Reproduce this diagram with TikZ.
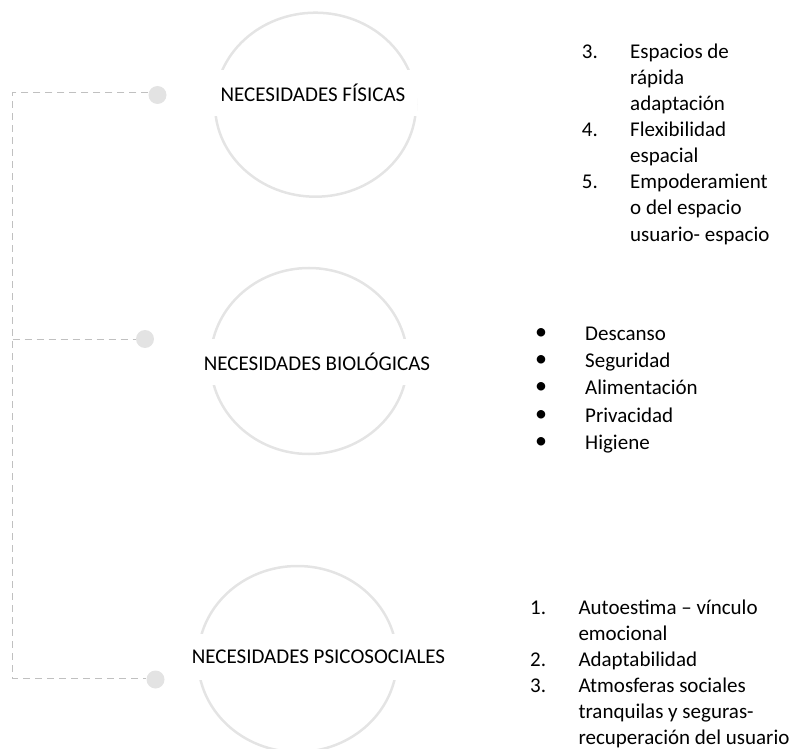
\documentclass[tikz,border=0pt]{standalone}
\usepackage{fontspec}
\setmainfont{Carlito}
\definecolor{ringgray}{RGB}{228,228,228}
\definecolor{dotgray}{RGB}{227,227,227}
\definecolor{dashgray}{RGB}{192,192,192}
\begin{document}
\begin{tikzpicture}[x=1pt,y=-1pt,
  ring/.style={draw=ringgray,line width=2.5pt},
  dotnode/.style={circle,fill=dotgray,inner sep=0pt,minimum size=18pt},
  dashline/.style={draw=dashgray,line width=1pt,dash pattern=on 7pt off 5pt},
  label/.style={fill=white,inner xsep=12pt,inner ysep=0pt,minimum height=46pt,font=\fontsize{21}{25.6}\selectfont},
  item/.style={anchor=mid west,inner sep=0pt,font=\fontsize{21}{25.6}\selectfont},
  bul/.style={anchor=center,inner sep=0pt,font=\fontsize{24}{24}\selectfont}]
\useasboundingbox (0,0) rectangle (796,749);
\clip (0,0) rectangle (796,749);
% rings
\draw[ring] (315.5,104.7) ellipse [x radius=100.5, y radius=92];
\draw[ring] (309,361) ellipse [x radius=98.5, y radius=93];
\draw[ring] (297.5,659) ellipse [x radius=99.5, y radius=93];
% labels
\node[label] (l1) at (313,93) {NECESIDADES FÍSICAS};
\node[label] (l2) at (317,361.5) {NECESIDADES BIOLÓGICAS};
\node[label] (l3) at (318.5,657) {NECESIDADES PSICOSOCIALES};
% dots
\node[dotnode] (d1) at (157.5,95) {};
\node[dotnode] (d2) at (145,339) {};
\node[dotnode] (d3) at (155.5,679.5) {};
\coordinate (ctop) at (12.5,93);
\coordinate (cmid) at (12.5,339);
\coordinate (cbot) at (12.5,678.3);
\draw[dashline] (ctop -| d1.west) -- (ctop) -- (cbot) -- (cbot -| d3.west);
\draw[dashline] (cmid) -- (d2.west);
% top list
\node[item] (n3) at (581.7,56) {3.};
\node[item] (t3a) at (630,56) {Espacios de};
\node[item] (t3b) at (630,82.1) {rápida};
\node[item] (t3c) at (630,108.2) {adaptación};
\node[item] (n4) at (581.7,134.3) {4.};
\node[item] (t4a) at (630,134.3) {Flexibilidad};
\node[item] (t4b) at (630,160.4) {espacial};
\node[item] (n5) at (581.7,186.5) {5.};
\node[item] (t5a) at (630,186.5) {Empoderamient};
\node[item] (t5b) at (630,212.6) {o del espacio};
\node[item] (t5c) at (630,238.7) {usuario- espacio};
% bullet list
\node[bul] (b1) at (541,333.8) {•};
\node[item] (s1) at (585,337.8) {Descanso};
\node[bul] (b2) at (541,361.1) {•};
\node[item] (s2) at (585,365.1) {Seguridad};
\node[bul] (b3) at (541,388.4) {•};
\node[item] (s3) at (585,392.4) {Alimentación};
\node[bul] (b4) at (541,415.7) {•};
\node[item] (s4) at (585,419.7) {Privacidad};
\node[bul] (b5) at (541,443) {•};
\node[item] (s5) at (585,447) {Higiene};
% bottom list
\node[item] (m1) at (530,612.3) {1.};
\node[item] (u1a) at (578.3,612.3) {Autoestima – vínculo};
\node[item] (u1b) at (578.3,638.3) {emocional};
\node[item] (m2) at (530,664.3) {2.};
\node[item] (u2) at (578.3,664.3) {Adaptabilidad};
\node[item] (m3) at (530,690.3) {3.};
\node[item] (u3a) at (578.3,690.3) {Atmosferas sociales};
\node[item] (u3b) at (578.3,716.3) {tranquilas y seguras-};
\node[item] (u3c) at (578.3,742.3) {recuperación del usuario};
\end{tikzpicture}
\end{document}
